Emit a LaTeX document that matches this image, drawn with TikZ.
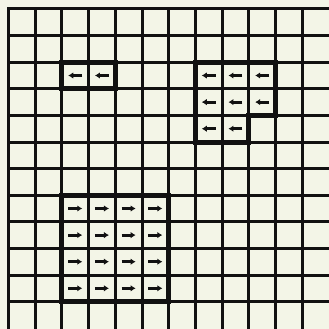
\documentclass[tikz,border=0pt]{standalone}
\usetikzlibrary{arrows.meta}
\definecolor{paper}{HTML}{F3F5E7}
\definecolor{ink}{HTML}{111111}
\begin{document}
\begin{tikzpicture}[x=1pt,y=-1pt,
  gridline/.style={ink,line width=3pt},
  regionbox/.style={ink,line width=5pt,line join=miter},
  cellarrow/.style={ink,line width=2.8pt,-{Latex[length=5pt,width=6.5pt]}},
  ]
\fill[paper] (0,0) rectangle (329,329);
\useasboundingbox (0,0) rectangle (329,329);
% grid
\foreach \k in {0,...,11}{
  \draw[gridline] (8.5+26.7*\k,7.5) -- (8.5+26.7*\k,329);
  \draw[gridline] (7,9+26.6*\k) -- (329,9+26.6*\k);
}
% region outlines
\draw[regionbox] (8.5+26.7*2,9+26.6*2) rectangle (8.5+26.7*4,9+26.6*3);
\draw[regionbox] (8.5+26.7*7,9+26.6*2) -- (8.5+26.7*10,9+26.6*2) -- (8.5+26.7*10,9+26.6*4)
  -- (8.5+26.7*9,9+26.6*4) -- (8.5+26.7*9,9+26.6*5) -- (8.5+26.7*7,9+26.6*5) -- cycle;
\draw[regionbox] (8.5+26.7*2,9+26.6*7) rectangle (8.5+26.7*6,9+26.6*11);
% left arrows (regions 1 and 2)
\foreach \c/\r in {2/2,3/2,7/2,8/2,9/2,7/3,8/3,9/3,7/4,8/4}{
  \coordinate (L\c-\r) at (8.5+26.7*\c+13.35,9+26.6*\r+13.3);
  \draw[cellarrow] ([xshift=7pt]L\c-\r) -- ([xshift=-7pt]L\c-\r);
}
% right arrows (region 3)
\foreach \c in {2,...,5}{
  \foreach \r in {7,...,10}{
    \coordinate (R\c-\r) at (8.5+26.7*\c+13.35,9+26.6*\r+13.3);
    \draw[cellarrow] ([xshift=-7pt]R\c-\r) -- ([xshift=7pt]R\c-\r);
  }
}
\end{tikzpicture}
\end{document}
